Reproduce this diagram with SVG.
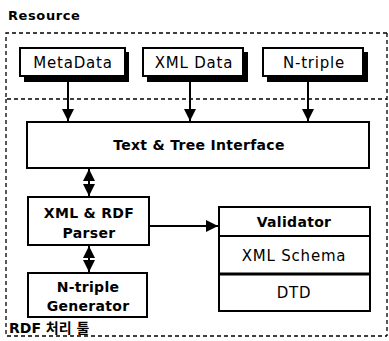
<svg xmlns="http://www.w3.org/2000/svg" width="389" height="341" viewBox="0 0 389 341">
<defs>
<style>
.dash{fill:none;stroke:#000;stroke-width:1.3;stroke-dasharray:4 3}
.box{fill:#fff;stroke:#000;stroke-width:2}
.shadow{fill:#000}
.t{font-family:"DejaVu Sans","Liberation Sans",sans-serif;font-size:15px;letter-spacing:0.8px;fill:#000;text-anchor:middle}
.b{font-family:"DejaVu Sans","Liberation Sans",sans-serif;font-size:14px;letter-spacing:0.3px;font-weight:bold;fill:#000;text-anchor:middle}
.line{stroke:#000;stroke-width:2;fill:none}
</style>
<marker id="ah" viewBox="0 0 10 10" refX="10" refY="5" markerWidth="6" markerHeight="6.5" orient="auto-start-reverse" markerUnits="strokeWidth">
<path d="M0,0 L10,5 L0,10 Z" fill="#000"/>
</marker>
</defs>
<rect width="389" height="341" fill="#fff"/>
<text x="8" y="20" font-family="DejaVu Sans,Liberation Sans,sans-serif" font-size="13" font-weight="bold" letter-spacing="0.6">Resource</text>
<path class="dash" d="M387,33 L6,33 L6,99 L387,99"/>
<path class="dash" d="M6,99 L6,336 L387,336 M387,33 L387,336"/>
<text x="9" y="333" font-family="DejaVu Sans,Liberation Sans,'Noto Sans CJK KR',sans-serif" font-size="14" font-weight="bold">RDF 처리 툴</text>
<g id="connectors">
<line class="line" x1="68" y1="81" x2="68" y2="121" marker-end="url(#ah)"/>
<line class="line" x1="190" y1="81" x2="190" y2="121" marker-end="url(#ah)"/>
<line class="line" x1="308" y1="82" x2="308" y2="121" marker-end="url(#ah)"/>
<line class="line" x1="89" y1="169" x2="89" y2="196" marker-start="url(#ah)" marker-end="url(#ah)"/>
<line class="line" x1="89" y1="246" x2="89" y2="272" marker-start="url(#ah)" marker-end="url(#ah)"/>
<line class="line" x1="149" y1="226" x2="218" y2="226" marker-end="url(#ah)"/>
</g>
<g id="metadata">
<rect class="shadow" x="24" y="52" width="105" height="30"/>
<rect class="box" x="20" y="48" width="105" height="28"/>
<text class="t" x="73" y="68">MetaData</text>
</g>
<g id="xmldata">
<rect class="shadow" x="147" y="52" width="101" height="30"/>
<rect class="box" x="143" y="48" width="100" height="28"/>
<text class="t" x="194" y="68">XML Data</text>
</g>
<g id="ntriple">
<rect class="shadow" x="267" y="52" width="101" height="30"/>
<rect class="box" x="263" y="48" width="100" height="28"/>
<text class="t" x="314" y="68">N-triple</text>
</g>
<g id="interface">
<rect class="box" x="27" y="122" width="342" height="46"/>
<text class="b" x="199" y="150">Text &amp; Tree Interface</text>
</g>
<g id="parser">
<rect class="box" x="28" y="197" width="121" height="48"/>
<text class="b" x="89" y="218">XML &amp; RDF</text>
<text class="b" x="89" y="238">Parser</text>
</g>
<g id="generator">
<rect class="box" x="28" y="273" width="119" height="44"/>
<text class="b" x="88" y="292">N-triple</text>
<text class="b" x="88" y="311">Generator</text>
</g>
<g id="validator">
<rect class="box" x="219" y="207" width="151" height="104"/>
<line class="line" x1="219" y1="236" x2="370" y2="236"/>
<line x1="219" y1="274" x2="370" y2="274" stroke="#000" stroke-width="3"/>
<text class="b" x="294" y="227">Validator</text>
<text class="t" x="294" y="261">XML Schema</text>
<text class="t" x="294" y="298">DTD</text>
</g>
</svg>
